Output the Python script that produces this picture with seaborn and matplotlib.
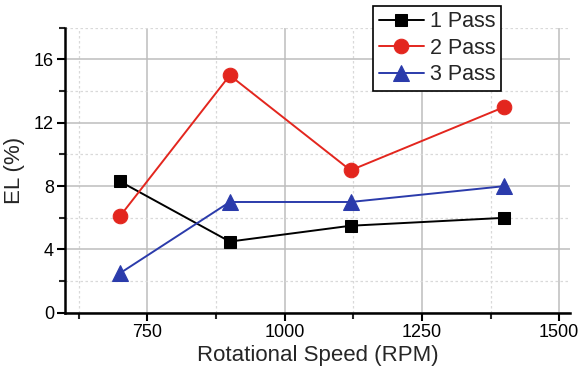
import matplotlib
matplotlib.use("Agg")
import matplotlib.pyplot as plt
import seaborn as sns
import pandas as pd
from matplotlib.ticker import MultipleLocator

speeds = [700, 900, 1120, 1400]
pass1 = [8.3, 4.5, 5.5, 6.0]
pass2 = [6.1, 15.0, 9.0, 13.0]
pass3 = [2.5, 7.0, 7.0, 8.0]
series_names = ["1 Pass", "2 Pass", "3 Pass"]
x_label = "Rotational Speed (RPM)"
y_label = "EL (%)"

df = pd.DataFrame({
    "speed": speeds * 3,
    "EL": pass1 + pass2 + pass3,
    "series": [series_names[0]] * 4 + [series_names[1]] * 4 + [series_names[2]] * 4,
})

sns.set_style("white")
plt.rcParams["font.family"] = ["Liberation Sans", "DejaVu Sans"]

fig = plt.figure(figsize=(5.86, 3.76), dpi=100)
ax = fig.add_axes([0.111, 0.168, 0.862, 0.758])

colors = {"1 Pass": "#000000", "2 Pass": "#e3261e", "3 Pass": "#2b3bab"}
markers = {"1 Pass": "s", "2 Pass": "o", "3 Pass": "^"}
msizes = {"1 Pass": 9, "2 Pass": 10.5, "3 Pass": 11}

for name in series_names:
    sub = df[df["series"] == name]
    sns.lineplot(data=sub, x="speed", y="EL", ax=ax, color=colors[name],
                 marker=markers[name], markersize=msizes[name], linewidth=1.4,
                 markeredgecolor=colors[name], label=name, zorder=3)

ax.set_xlim(600, 1520)
ax.set_ylim(0, 18)
ax.xaxis.set_major_locator(MultipleLocator(250))
ax.xaxis.set_minor_locator(MultipleLocator(125))
ax.yaxis.set_major_locator(MultipleLocator(4))
ax.yaxis.set_minor_locator(MultipleLocator(2))
ax.set_xticks([750, 1000, 1250, 1500])

ax.grid(which="major", color="#bdbdbd", linewidth=1.1, linestyle="-")
ax.grid(which="minor", color="#d9d9d9", linewidth=0.9, linestyle=(0, (2, 2)))
ax.set_axisbelow(True)

for s in ["top", "right"]:
    ax.spines[s].set_visible(False)
for s in ["left", "bottom"]:
    ax.spines[s].set_color("black")
    ax.spines[s].set_linewidth(1.8)

ax.tick_params(which="major", direction="out", length=6, width=1.5, labelsize=13,
               colors="black", bottom=True, left=True, pad=2)
ax.tick_params(which="minor", direction="out", length=4, width=1.5,
               bottom=True, left=True)

ax.set_xlabel(x_label, fontsize=16, labelpad=3)
ax.set_ylabel(y_label, fontsize=16, labelpad=6)

leg = ax.legend(loc="upper left", bbox_to_anchor=(0.637, 0.984),
                bbox_transform=fig.transFigure, fontsize=15.5, frameon=True,
                fancybox=False, edgecolor="black", handlelength=2.1,
                borderpad=0.25, labelspacing=0.25, handletextpad=0.3,
                borderaxespad=0)
leg.get_frame().set_linewidth(1.2)
leg.get_frame().set_alpha(1)

fig.savefig("out.png", dpi=100)
